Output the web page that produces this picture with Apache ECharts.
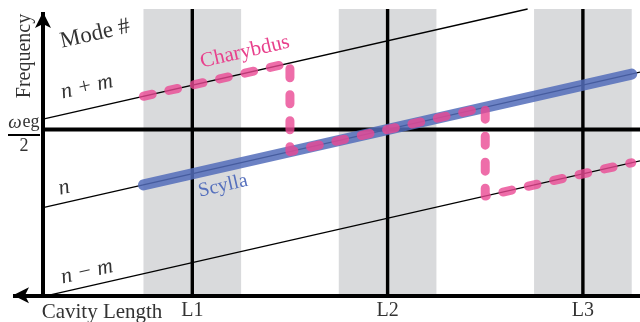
<!DOCTYPE html>
<html><head><meta charset="utf-8">
<script src="https://cdn.jsdelivr.net/npm/echarts@6/dist/echarts.min.js"></script>
<style>html,body{margin:0;padding:0;background:#fff}#c{width:640px;height:322px}</style>
</head><body><div id="c"></div>
<script>
// x: cavity length (in L units), y: frequency relative to ωeg/2 (in units of mode spacing m)
const cavityTickValues = [1, 2, 3];
const cavityTickLabels = ['L1', 'L2', 'L3'];
const bandRanges = [[0.75, 1.25], [1.75, 2.25], [2.75, 3.25]];
const modeNPlusM = [[0.2355, 0.118], [2.717, 1.3585]];
const modeN = [[0.2355, -0.882], [3.2924, 0.646]];
const modeNMinusM = [[0.262, -1.869], [3.2924, -0.354]];
const scylla = [[0.75, -0.625], [3.25, 0.625]];
const charybdus = [[0.75, 0.375], [1.5, 0.75], [1.5, -0.25], [2.5, 0.25], [2.5, -0.75], [3.25, -0.375]];
const midFrequency = 0;          // ωeg/2
const frameTop = 1.3585, frameBottom = -1.869, axisX = 0.2355, xMax = 3.2924;
const yArrowTip = 1.3247, xArrowTip = 0.0819;

const chart = echarts.init(document.getElementById('c'), null, {renderer: 'canvas'});
const serif = 'Liberation Serif';
const txt = '#333';
const rot = Math.atan(0.227);

function seg(data, width, z, extra) {
  return Object.assign({
    type: 'line', data: data, symbol: 'none', silent: true, z: z,
    lineStyle: {color: '#000', width: width}
  }, extra || {});
}

const series = [
  {type: 'line', data: [], z: 1, silent: true,
   markArea: {silent: true, itemStyle: {color: '#d9dadc'},
     data: bandRanges.map(r => [{xAxis: r[0], yAxis: frameBottom}, {xAxis: r[1], yAxis: frameTop}])}},
  seg(modeNPlusM, 1.3, 2), seg(modeN, 1.3, 2), seg(modeNMinusM, 1.3, 2),
  ...cavityTickValues.map(v => seg([[v, frameBottom], [v, frameTop]], 3.4, 3)),
  seg([[axisX, midFrequency], [xMax, midFrequency]], 4, 3),
  {type: 'line', data: [], z: 3, silent: true,
   markLine: {silent: true, symbol: ['none', 'arrow'], symbolSize: [12, 16], label: {show: false},
     lineStyle: {color: '#000', width: 4, type: 'solid'},
     data: [
       [{coord: [axisX, frameBottom]}, {coord: [axisX, yArrowTip]}],
       [{coord: [xMax, frameBottom]}, {coord: [xArrowTip, frameBottom]}]
     ]}},
  seg(scylla, 11, 4, {lineStyle: {color: 'rgba(82,108,186,0.85)', width: 11, cap: 'round'}}),
  seg(charybdus, 9, 5, {lineStyle: {color: 'rgba(234,72,148,0.8)', width: 9, cap: 'round', join: 'round', type: [9, 17]}})
];

function label(text, x, y, size, opts) {
  opts = opts || {};
  return {
    type: 'text', x: x, y: y, silent: true, z: 20, rotation: opts.rotation || 0,
    style: Object.assign({text: text, fill: txt, font: (opts.italic ? 'italic ' : '') + size + 'px "' + serif + '"',
      align: 'center', verticalAlign: 'middle'}, opts.style || {})
  };
}

chart.setOption({
  animation: false,
  grid: {left: 0, right: 0, top: 0, bottom: 0},
  xAxis: {type: 'value', min: 0.01536, max: xMax,
    axisLine: {show: false}, axisTick: {show: false}, splitLine: {show: false},
    axisLabel: {show: true, inside: true, margin: 1, customValues: cavityTickValues,
      formatter: v => cavityTickLabels[cavityTickValues.indexOf(v)],
      color: txt, fontSize: 20, fontFamily: serif}},
  yAxis: {type: 'value', min: -2.1702, max: 1.46, show: false},
  series: series,
  graphic: [
    label('Mode #', 95, 34, 23, {rotation: rot}),
    label('Frequency', 25, 56, 20, {rotation: Math.PI / 2}),
    label('ω', 15, 123, 19, {italic: true}),
    label('eg', 31, 122, 18),
    {type: 'line', silent: true, shape: {x1: 8, y1: 135, x2: 40, y2: 135}, style: {stroke: '#000', lineWidth: 2}},
    label('2', 24, 146, 18),
    label('n + m', 87, 87, 22, {rotation: rot, italic: true}),
    label('n', 64, 188, 22, {rotation: rot, italic: true}),
    label('n − m', 87, 272, 22, {rotation: rot, italic: true}),
    label('Charybdus', 245, 52, 21, {rotation: rot, style: {fill: '#e8408c'}}),
    label('Scylla', 223, 186, 20, {rotation: rot, style: {fill: '#5670bd'}}),
    label('Cavity Length', 102, 312, 21)
  ]
});
</script></body></html>
